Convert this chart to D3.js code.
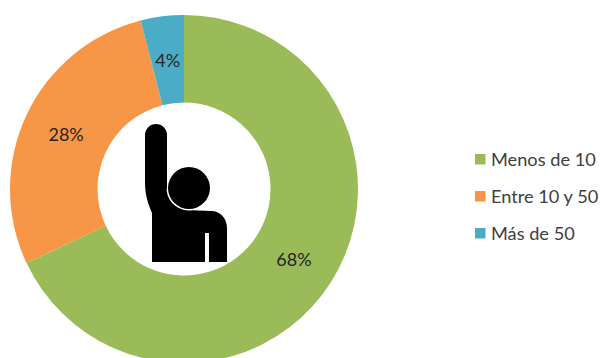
<!DOCTYPE html>
<html>
<head>
<meta charset="utf-8">
<script src="https://cdn.jsdelivr.net/npm/d3@7"></script>
<style>
html,body{margin:0;padding:0;background:#fff;}
svg{display:block;}
text{font-family:Lato,"Open Sans",sans-serif;}
</style>
</head>
<body>
<svg id="chart" width="603" height="358"></svg>
<script>
const categories = ["Menos de 10", "Entre 10 y 50", "Más de 50"];
const shares = [68, 28, 4];
const colours = ["#9BBB59", "#F79646", "#4BACC6"];

const svg = d3.select("#chart");
const cx = 184, cy = 189, outerR = 174, innerR = 86.5;

const colour = d3.scaleOrdinal().domain(categories).range(colours);
const pie = d3.pie().sort(null).value((d, i) => shares[i]);
const arc = d3.arc().innerRadius(innerR).outerRadius(outerR);
const slices = pie(categories);

const donut = svg.append("g").attr("transform", `translate(${cx},${cy})`);

donut.selectAll("path.slice")
  .data(slices)
  .join("path")
  .attr("class", "slice")
  .attr("d", arc)
  .attr("fill", d => colour(d.data));

donut.selectAll("text.share")
  .data(slices)
  .join("text")
  .attr("class", "share")
  .attr("transform", d => `translate(${arc.centroid(d)})`)
  .attr("text-anchor", "middle")
  .attr("dominant-baseline", "central")
  .attr("font-size", 18)
  .attr("fill", "#262626")
  .text(d => shares[d.index] + "%");

// Person with a raised arm, sitting in the hole of the ring
const icon = svg.append("g").attr("fill", "#000");
const headX = 189, headY = 188, headR = 21, collarR = 22.5;
const body = d3.path();
body.moveTo(145, 135);
body.arc(156, 135, 11, Math.PI, 0);
body.lineTo(167, 188);
// collar follows the head, leaving a thin white rim
body.arc(headX, headY, collarR, Math.PI - 0.1, Math.PI / 2 - 0.15, true);
body.lineTo(211, 211);
body.bezierCurveTo(220, 211, 227, 218, 227, 228);
body.lineTo(227, 262);
body.lineTo(209, 262);
body.lineTo(209, 233);
body.lineTo(205, 233);
body.lineTo(205, 262);
body.lineTo(152, 262);
body.lineTo(152, 213);
body.bezierCurveTo(148, 204, 145, 194, 145, 183);
body.closePath();
icon.append("path").attr("d", body.toString());
icon.append("circle").attr("cx", headX).attr("cy", headY).attr("r", headR);

// Legend
const legendY = d3.scalePoint().domain(categories).range([159, 233]);
const legend = svg.append("g");
const rows = legend.selectAll("g")
  .data(categories)
  .join("g")
  .attr("transform", d => `translate(475,${legendY(d)})`);

rows.append("rect")
  .attr("x", 0).attr("y", -5)
  .attr("width", 10.5).attr("height", 10.5)
  .attr("fill", d => colour(d));

rows.append("text")
  .attr("x", 16)
  .attr("dominant-baseline", "central")
  .attr("font-size", 18.2)
  .attr("fill", "#404040")
  .text(d => d);
</script>
</body>
</html>
